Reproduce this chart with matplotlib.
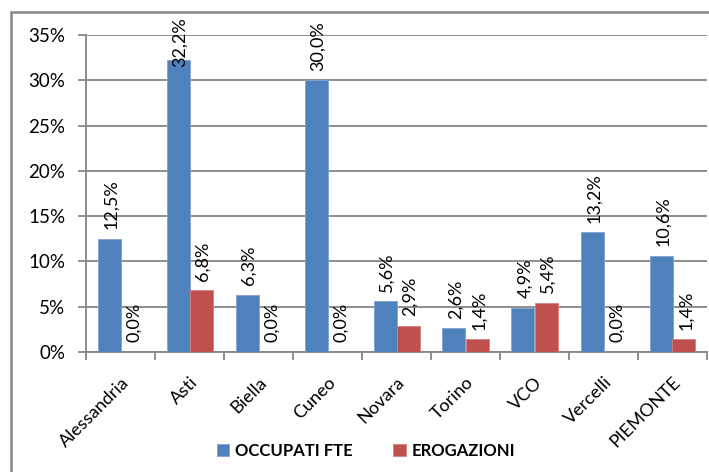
import matplotlib
matplotlib.use("Agg")
import matplotlib.pyplot as plt
from matplotlib.patches import Rectangle
import numpy as np

categories = ["Alessandria", "Asti", "Biella", "Cuneo", "Novara", "Torino", "VCO", "Vercelli", "PIEMONTE"]
occupati = [12.5, 32.2, 6.3, 30.0, 5.6, 2.6, 4.9, 13.2, 10.6]
erogazioni = [0.0, 6.8, 0.0, 0.0, 2.9, 1.4, 5.4, 0.0, 1.4]
series_names = ["OCCUPATI FTE", "EROGAZIONI"]
yticks = [0, 5, 10, 15, 20, 25, 30, 35]

plt.rcParams['font.family'] = ['Lato', 'DejaVu Sans']

DPI = 100
fig = plt.figure(figsize=(7.09, 4.72), dpi=DPI)
ax = fig.add_axes([86/709, 1-352/472, 621/709, 317/472])

grid_c = "#868686"
blue = "#4F81BD"
red = "#C0504D"

x = np.arange(len(categories))
w = 1/3
b1 = ax.bar(x - w/2, occupati, w, color=blue, edgecolor="#7FA3D0", linewidth=0.6, label=series_names[0], zorder=3)
b2 = ax.bar(x + w/2, erogazioni, w, color=red, edgecolor="#D47F7D", linewidth=0.6, label=series_names[1], zorder=3)

def fmt(v):
    return ("%.1f" % v).replace(".", ",") + "%"

annots = []
for bars, vals in ((b1, occupati), (b2, erogazioni)):
    for rect, v in zip(bars, vals):
        a = ax.annotate(fmt(v), (rect.get_x() + rect.get_width()/2, v),
                        xytext=(1.5, 7), textcoords="offset points",
                        rotation=90, ha="center", va="bottom", fontsize=13,
                        annotation_clip=False, zorder=4)
        annots.append(a)

ax.set_xlim(-0.5, len(categories) - 0.5)
ax.set_ylim(0, 35)
ax.set_yticks(yticks)
ax.set_yticklabels(["%d%%" % t for t in yticks], fontsize=13.5)
ax.yaxis.grid(True, color=grid_c, linewidth=1.3, zorder=0)
ax.set_axisbelow(True)

ax.set_xticks(x)
ax.set_xticklabels(categories, rotation=45, ha="right", rotation_mode="anchor", fontsize=13)
ax.set_xticks(np.arange(len(categories) + 1) - 0.5, minor=True)
ax.tick_params(axis="x", which="major", length=0, pad=16)
ax.tick_params(axis="x", which="minor", length=6, color=grid_c, width=1.3)
ax.tick_params(axis="y", length=6, color=grid_c, width=1.3, pad=9)

for s in ["top", "right"]:
    ax.spines[s].set_visible(False)
for s in ["left", "bottom"]:
    ax.spines[s].set_color(grid_c)
    ax.spines[s].set_linewidth(1.3)

leg = fig.legend(handles=[b1, b2], labels=series_names, loc="center",
                 bbox_to_anchor=(366/709, 1-451/472), ncol=2, frameon=False,
                 prop={"weight": "bold", "size": 12}, handlelength=0.75,
                 handleheight=0.75, handletextpad=0.35, columnspacing=2.4)

fig.patches.append(Rectangle((11/709, -0.1), 1.2, 1-12/472+0.1, transform=fig.transFigure,
                             fill=False, edgecolor=grid_c, linewidth=1.8, zorder=0))

# keep data labels inside the chart area (as the spreadsheet does)
fig.canvas.draw()
renderer = fig.canvas.get_renderer()
top_limit = fig.bbox.height - 17
for a in annots:
    bb = a.get_window_extent(renderer)
    if bb.y1 > top_limit:
        dx, dy = a.xyann
        a.xyann = (dx, dy - (bb.y1 - top_limit) * 72 / DPI)

fig.savefig("out.png", dpi=DPI)
